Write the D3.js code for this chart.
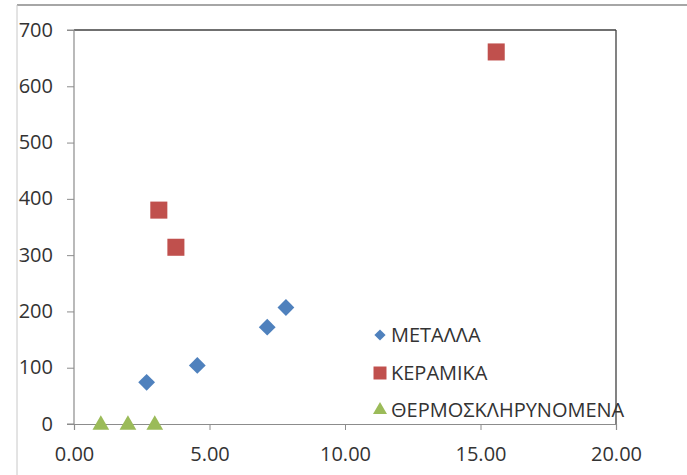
<!DOCTYPE html>
<html><head><meta charset="utf-8">
<script src="https://cdn.jsdelivr.net/npm/d3@7"></script>
<style>body{margin:0;background:#fff}svg{display:block}text{font-family:"Open Sans","Noto Sans",sans-serif}</style>
</head><body><svg id="c" width="687" height="475"></svg>
<script>
const seriesNames = ["ΜΕΤΑΛΛΑ", "ΚΕΡΑΜΙΚΑ", "ΘΕΡΜΟΣΚΛΗΡΥΝΟΜΕΝΑ"];
const metallaX = [2.68, 4.55, 7.13, 7.82];
const metallaY = [74, 104, 172, 207];
const keramikaX = [3.13, 3.76, 15.58];
const keramikaY = [380, 314, 661];
const thermoX = [0.99, 1.99, 2.98];
const thermoY = [0, 0, 0];
const xTicks = [0, 5, 10, 15, 20];
const yTicks = [0, 100, 200, 300, 400, 500, 600, 700];
const colors = ["#4F81BD", "#C0504D", "#9BBB59"];

const svg = d3.select("#c");
const L = 74, R = 616, T = 30, B = 424;
const x = d3.scaleLinear().domain([0, 20]).range([L, R]);
const y = d3.scaleLinear().domain([0, 700]).range([B, T]);

// outer frame
svg.append("line").attr("x1",17).attr("x2",687).attr("y1",5).attr("y2",5).attr("stroke","#a6a6a6").attr("stroke-width",2);
svg.append("line").attr("x1",17).attr("x2",17).attr("y1",5).attr("y2",475).attr("stroke","#c8c8c8").attr("stroke-width",1);

// plot border top/right
svg.append("line").attr("x1",L).attr("x2",R).attr("y1",T).attr("y2",T).attr("stroke","#404040").attr("stroke-width",1.3);
svg.append("line").attr("x1",R).attr("x2",R).attr("y1",T).attr("y2",B).attr("stroke","#404040").attr("stroke-width",1.3);

const xAxis = svg.append("g").attr("transform",`translate(0,${B})`)
  .call(d3.axisBottom(x).tickValues(xTicks).tickFormat(d3.format(".2f")).tickSize(6).tickPadding(17));
const yAxis = svg.append("g").attr("transform",`translate(${L},0)`)
  .call(d3.axisLeft(y).tickValues(yTicks).tickSize(7).tickPadding(14));
[xAxis, yAxis].forEach(g => {
  g.select(".domain").attr("stroke","#8c8c8c").attr("stroke-width",1.2);
  g.selectAll(".tick line").attr("stroke","#8c8c8c");
  g.selectAll(".tick text").attr("fill","#333333").style("font-size","20px");
});
yAxis.select(".domain").attr("d", `M-7,${T}H0V${B}H-7`);
yAxis.selectAll(".tick text").attr("dy","0.3em");

const sym = [d3.symbolDiamond2, d3.symbolSquare2, d3.symbolTriangle2];
const sizes = [180, 370, 200];
const data = [
  d3.zip(metallaX, metallaY),
  d3.zip(keramikaX, keramikaY),
  d3.zip(thermoX, thermoY)
];
data.forEach((pts, i) => {
  svg.append("g").selectAll("path").data(pts).join("path")
    .attr("transform", d => `translate(${x(d[0])},${y(d[1]) + (i===2 ? 1 : 0)})`)
    .attr("d", d3.symbol().type(sym[i]).size(sizes[i]))
    .attr("fill", colors[i]);
});

// legend
const legY = [335, 373, 410];
const legSizes = [80, 215, 140];
seriesNames.forEach((n, i) => {
  const g = svg.append("g").attr("transform", `translate(380,${legY[i]})`);
  g.append("path").attr("d", d3.symbol().type(sym[i]).size(legSizes[i])).attr("fill", colors[i]);
  g.append("text").attr("x", 11).attr("y", 0).attr("dy","0.36em")
    .style("font-size","20px").attr("fill","#333333").text(n);
});
</script></body></html>
